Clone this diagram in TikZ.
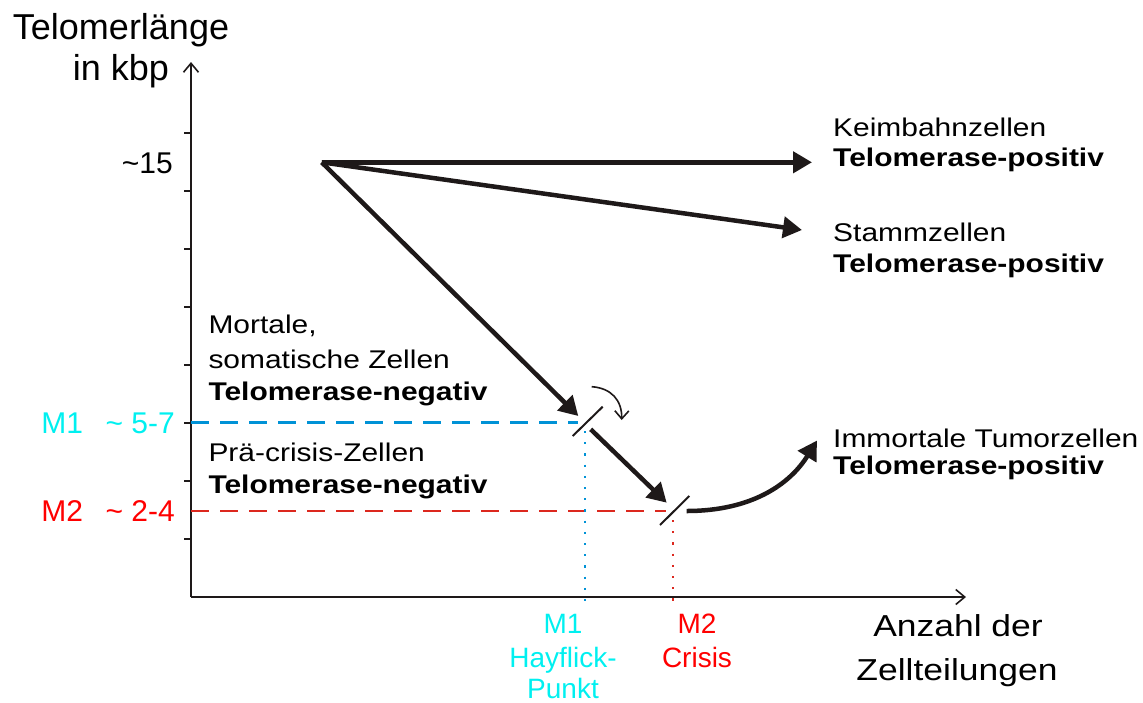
\documentclass[tikz,border=0pt]{standalone}
\usepackage{fontspec}
\setmainfont{Liberation Sans}
\newfontfamily\widefont{Liberation Sans}[FakeStretch=1.17]
\usetikzlibrary{arrows.meta}
\definecolor{cyantext}{RGB}{0,240,240}
\definecolor{blueline}{RGB}{0,146,214}
\definecolor{redtext}{RGB}{255,0,0}
\definecolor{redline}{RGB}{220,40,30}
\definecolor{ink}{RGB}{30,25,25}
\tikzset{
  lbl/.style={inner sep=0pt, anchor=base west, font=\widefont\fontsize{25.6}{30}\selectfont},
  blbl/.style={lbl, font=\widefont\bfseries\fontsize{25.6}{30}\selectfont},
  axis/.style={draw=ink, line width=2pt},
  tick/.style={draw=ink, line width=1.6pt},
  bigarrow/.style={draw=ink, line width=4.5pt, -{Triangle[length=19pt,width=21pt]}},
  slash/.style={draw=ink, line width=2pt},
  hdash/.style={line width=2.2pt, dash pattern=on 18pt off 11pt},
  vdot/.style={line width=2.2pt, dash pattern=on 2.2pt off 9pt},
}
\begin{document}
\begin{tikzpicture}[x=1pt,y=-1pt]
\useasboundingbox (0,0) rectangle (1143,702);
% axes
\coordinate (orig) at (191,597);
\coordinate (ytop) at (191,62);
\coordinate (xend) at (966,597);
\draw[axis, -{Straight Barb[length=9pt,width=15pt,line width=1.6pt]}] (orig) -- (ytop);
\draw[axis, -{Straight Barb[length=9pt,width=15pt,line width=1.6pt]}] (orig) -- (xend);
% ticks
\foreach \i in {0,...,7}{
  \coordinate (t\i) at (191,132.7+58.05*\i);
  \draw[tick] (t\i) -- ++(-7,0);
}
% axis labels
\node[inner sep=0pt, anchor=base, font=\fontsize{36}{40}\selectfont] (ylab1) at (121,39.3) {Telomerlänge};
\node[inner sep=0pt, anchor=base, font=\fontsize{36}{40}\selectfont] (ylab2) at (121,80) {in kbp};
\node[inner sep=0pt, anchor=base east, font=\fontsize{30}{34}\selectfont] (v15) at (173,173.3) {\textasciitilde15};
\node[inner sep=0pt, anchor=base, font=\widefont\fontsize{30.3}{34}\selectfont] (xlab1) at (958,636) {Anzahl der};
\node[inner sep=0pt, anchor=base, font=\widefont\fontsize{30.3}{34}\selectfont] (xlab2) at (957,680) {Zellteilungen};
% M levels
\node[inner sep=0pt, anchor=base east, text=cyantext, font=\fontsize{30}{34}\selectfont] (m1y) at (175,433.3) {M1\hspace{0.75em}\textasciitilde{} 5-7};
\node[inner sep=0pt, anchor=base east, text=redtext, font=\fontsize{30}{34}\selectfont] (m2y) at (175,521.7) {M2\hspace{0.75em}\textasciitilde{} 2-4};
\coordinate (m1l) at (191,422.5);
\coordinate (m1r) at (578,422.5);
\coordinate (m2l) at (191,511);
\coordinate (m2r) at (666,511);
\draw[hdash, blueline] (m1l) -- (m1r);
\draw[hdash, redline] (m2l) -- (m2r);
\coordinate (m1t) at (585,431);
\coordinate (m1b) at (585,606);
\coordinate (m2t) at (673,520);
\coordinate (m2b) at (673,606);
\draw[vdot, blueline] (m1t) -- (m1b);
\draw[vdot, redline] (m2t) -- (m2b);
% bottom labels
\node[inner sep=0pt, anchor=base, text=cyantext, font=\fontsize{28}{32}\selectfont] (hb1) at (563,633.3) {M1};
\node[inner sep=0pt, anchor=base, text=cyantext, font=\fontsize{28}{32}\selectfont] (hb2) at (563,667.3) {Hayflick-};
\node[inner sep=0pt, anchor=base, text=cyantext, font=\fontsize{28}{32}\selectfont] (hb3) at (563,698.3) {Punkt};
\node[inner sep=0pt, anchor=base, text=redtext, font=\fontsize{28}{32}\selectfont] (cb1) at (697,633.3) {M2};
\node[inner sep=0pt, anchor=base, text=redtext, font=\fontsize{28}{32}\selectfont] (cb2) at (697,667.3) {Crisis};
% arrows
\coordinate (O) at (321.7,162.3);
\coordinate (K) at (812,162.3);
\coordinate (S) at (802,230);
\coordinate (A1) at (578.3,416);
\coordinate (B1) at (590.7,429.3);
\coordinate (A2) at (666.7,502.7);
\coordinate (C1) at (686.7,511);
\coordinate (C2) at (817,440.5);
\draw[bigarrow] (O) -- (K);
\draw[bigarrow] (O) -- (S);
\draw[bigarrow] (O) -- (A1);
\draw[bigarrow] (B1) -- (A2);
\draw[bigarrow] (C1) .. controls (752,511) and (790,484) .. (C2);
% slashes
\coordinate (s1a) at (572.7,436);
\coordinate (s1b) at (602.7,406.7);
\coordinate (s2a) at (660,525);
\coordinate (s2b) at (689.3,496);
\draw[slash] (s1a) -- (s1b);
\draw[slash] (s2a) -- (s2b);
% small curved arrow
\coordinate (r1) at (591.7,386.7);
\coordinate (r2) at (621.7,420);
\draw[draw=ink, line width=1.6pt, -{Straight Barb[length=8pt,width=14pt,line width=1.6pt]}] (r1) .. controls (611,388) and (622,400) .. (r2);
% right labels
\node[lbl] (k1) at (833,136.7) {Keimbahnzellen};
\node[blbl] (k2) at (833,166.7) {Telomerase-positiv};
\node[lbl] (st1) at (833,241.7) {Stammzellen};
\node[blbl] (st2) at (833,272.7) {Telomerase-positiv};
\node[lbl] (im1) at (833,447.5) {Immortale Tumorzellen};
\node[blbl] (im2) at (833,474) {Telomerase-positiv};
% middle left labels
\node[lbl] (mo1) at (208.3,333.3) {Mortale,};
\node[lbl] (mo2) at (208.3,368.3) {somatische Zellen};
\node[blbl] (mo3) at (208.3,400.7) {Telomerase-negativ};
\node[lbl] (pc1) at (208.3,461.7) {Prä-crisis-Zellen};
\node[blbl] (pc2) at (208.3,493.3) {Telomerase-negativ};
\end{tikzpicture}
\end{document}
